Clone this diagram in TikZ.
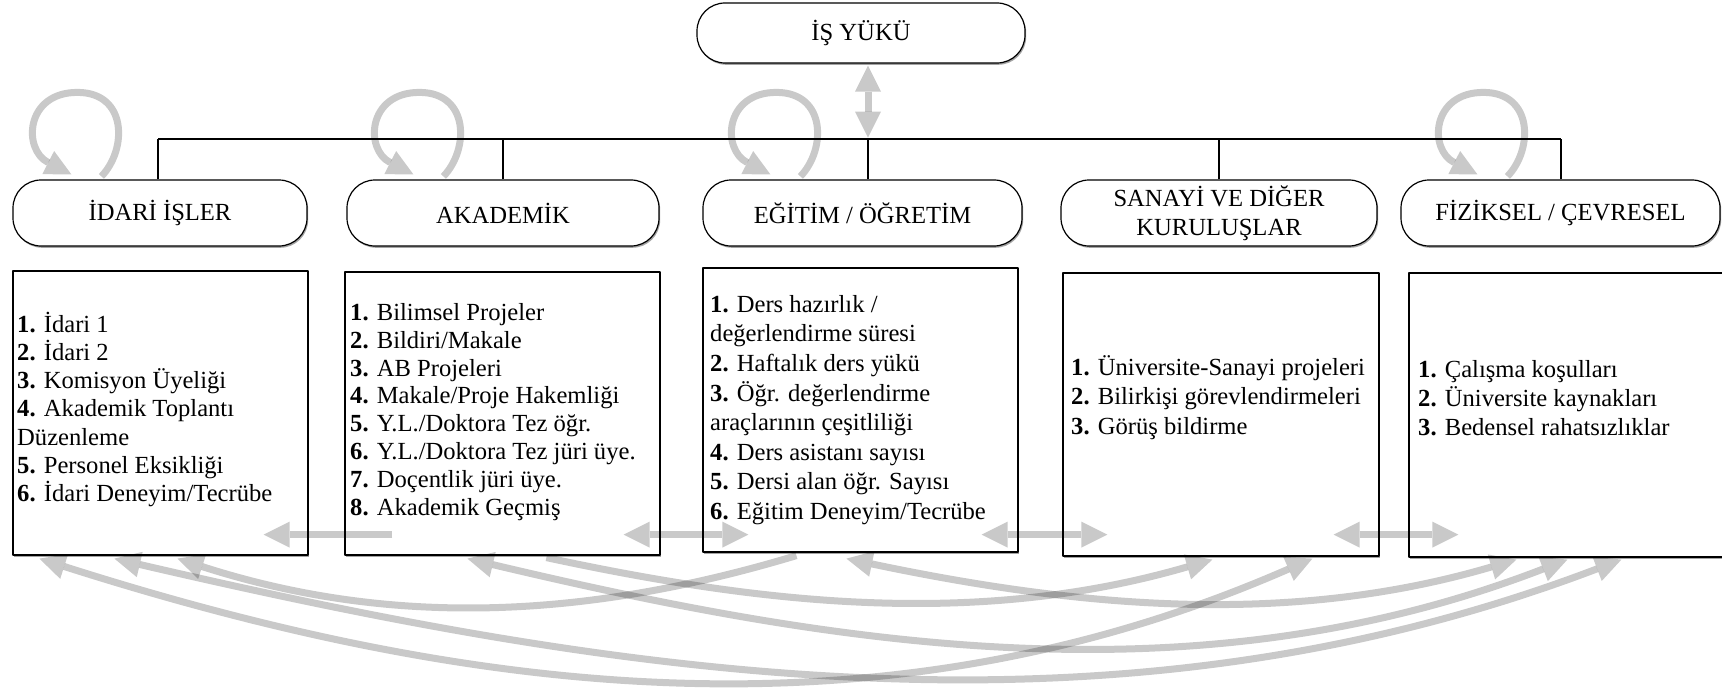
\documentclass[tikz,border=0pt]{standalone}
\usepackage{fontspec}
\setmainfont{Liberation Serif}
\usetikzlibrary{arrows.meta,calc,shadows}
\newcommand{\trfont}[1]{\fontsize{24.6pt}{#1}\selectfont}
\tikzset{
  gtip/.tip={Triangle[length=26pt,width=26pt,line width=0pt]},
  garc/.style={line width=7pt, draw=black, opacity=0.21, -{gtip}},
  garcd/.style={line width=7pt, draw=black, opacity=0.21, {gtip}-{gtip}},
  bus/.style={line width=1.2pt, draw=black},
  catbox/.style={draw, line width=1.2pt, rounded corners=28pt, minimum height=66pt,
    align=center, fill=white, inner sep=0pt, font=\trfont{29pt},
    drop shadow={shadow xshift=1.2pt, shadow yshift=-1.8pt, fill=black!60, opacity=0.6}},
  cbox/.style={draw, line width=1.2pt, fill=white, inner sep=0pt,
    drop shadow={shadow xshift=1.2pt, shadow yshift=-1.8pt, fill=black!60, opacity=0.6}},
  ctext/.style={anchor=north west, inner sep=0pt, align=left}
}
\newcommand{\selfloop}[2]{%
  \draw[garc] ($(#1.north west)+(#2,-3)$) .. controls +(26,-27) and +(50,0) .. ++(-24,-84)
     .. controls +(-52,0) and +(-49,-25) .. ++(-6,82);}
\begin{document}
\begin{tikzpicture}[x=1pt,y=-1pt,line join=round]
\useasboundingbox (0,0) rectangle (1722,690);
\fill[white] (0,0) rectangle (1722,690);

% top node
\node[catbox, minimum width=328pt, minimum height=60pt] (isyuku) at (861,33) {İŞ YÜKÜ};

% category nodes
\node[catbox, minimum width=294pt] (idari)  at (160,213)   {İDARİ İŞLER};
\node[catbox, minimum width=312pt] (akad)   at (503,213)   {AKADEMİK};
\node[catbox, minimum width=319pt] (egitim) at (862.5,213) {EĞİTİM / ÖĞRETİM};
\node[catbox, minimum width=316pt] (sanayi) at (1219,213)  {SANAYİ VE DİĞER\\KURULUŞLAR};
\node[catbox, minimum width=319pt] (fizik)  at (1560.5,213){FİZİKSEL / ÇEVRESEL};

% bus
\coordinate (busL) at (158,139);
\coordinate (busR) at (1561,139);
\coordinate (egtop) at ($(egitim.north)+(5.5,0)$);
\draw[bus] (busL) -- (busR);
\draw[bus] (busL |- idari.north) -- (busL);
\draw[bus] (akad.north) -- (akad.north |- busL);
\draw[bus] (egtop) -- (egtop |- busL);
\draw[bus] (sanayi.north) -- (sanayi.north |- busL);
\draw[bus] (busR |- fizik.north) -- (busR);

% content boxes
\node[cbox, minimum width=295pt, minimum height=284pt] (box1) at (160.5,413) {};
\node[cbox, minimum width=315pt, minimum height=283pt] (box2) at (502.5,413.5) {};
\node[cbox, minimum width=315pt, minimum height=284pt] (box3) at (860.5,410) {};
\node[cbox, minimum width=316pt, minimum height=283pt] (box4) at (1221,414.5) {};
\node[cbox, minimum width=321pt, minimum height=284pt] (box5) at (1569.5,415) {};

% texts
\node[ctext, font=\trfont{28.2pt}] (t1) at (17,310) {\rule{0pt}{22pt}\textbf{1.} İdari 1\\
\textbf{2.} İdari 2\\
\textbf{3.} Komisyon Üyeliği\\
\textbf{4.} Akademik Toplantı\\
Düzenleme\\
\textbf{5.} Personel Eksikliği\\
\textbf{6.} İdari Deneyim/Tecrübe};

\node[ctext, font=\trfont{27.9pt}] (t2) at (350,298) {\rule{0pt}{22pt}\textbf{1.} Bilimsel Projeler\\
\textbf{2.} Bildiri/Makale\\
\textbf{3.} AB Projeleri\\
\textbf{4.} Makale/Proje Hakemliği\\
\textbf{5.} Y.L./Doktora Tez öğr.\\
\textbf{6.} Y.L./Doktora Tez jüri üye.\\
\textbf{7.} Doçentlik jüri üye.\\
\textbf{8.} Akademik Geçmiş};

\node[ctext, font=\trfont{29.6pt}] (t3) at (710,290) {\rule{0pt}{22pt}\textbf{1.} Ders hazırlık /\\
değerlendirme süresi\\
\textbf{2.} Haftalık ders yükü\\
\textbf{3.} Öğr. değerlendirme\\
araçlarının çeşitliliği\\
\textbf{4.} Ders asistanı sayısı\\
\textbf{5.} Dersi alan öğr. Sayısı\\
\textbf{6.} Eğitim Deneyim/Tecrübe};

\node[ctext, font=\trfont{29.5pt}] (t4) at (1071,353) {\rule{0pt}{22pt}\textbf{1.} Üniversite-Sanayi projeleri\\
\textbf{2.} Bilirkişi görevlendirmeleri\\
\textbf{3.} Görüş bildirme};

\node[ctext, font=\trfont{29pt}] (t5) at (1418,355) {\rule{0pt}{22pt}\textbf{1.} Çalışma koşulları\\
\textbf{2.} Üniversite kaynakları\\
\textbf{3.} Bedensel rahatsızlıklar};

% vertical double arrow
\draw[garcd] ($(isyuku.south)+(7,2)$) -- ($(isyuku.south)+(7,74)$);

% self loops
\selfloop{idari}{89}
\selfloop{akad}{97}
\selfloop{egitim}{98}
\selfloop{fizik}{107}

% horizontal arrows
\draw[garc]  ($(box2.south west)+(48,-21)$) -- ($(box1.south east)+(-45,-21)$);
\draw[garcd] ($(box2.south east)+(-37,-21)$) -- ($(box3.south west)+(46,-18)$);
\draw[garcd] ($(box3.south east)+(-37,-18)$) -- ($(box4.south west)+(45,-22)$);
\draw[garcd] ($(box4.south east)+(-46,-22)$) -- ($(box5.south west)+(50,-23)$);

% bottom arcs
\draw[garc]  ($(box3.south west)+(94,3)$) .. controls (596,616) and (399,630) .. ($(box1.south west)+(165,3)$);
\draw[garc]  ($(box2.south west)+(202,2)$) .. controls (762,604) and (977,628) .. ($(box4.south west)+(150,3)$);
\draw[garcd] ($(box3.south west)+(144,6)$) .. controls (1077,607) and (1287,627) .. ($(box5.south west)+(108,2)$);
\draw[garcd] ($(box2.south west)+(123,3)$) .. controls (840,647) and (1196,703) .. ($(box5.south west)+(159,2)$);
\draw[garcd] ($(box1.south west)+(27,3)$) .. controls (474,697) and (884,746) .. ($(box4.south west)+(250,2)$);
\draw[garcd] ($(box1.south west)+(102,3)$) .. controls (624,677) and (1113,753) .. ($(box5.south west)+(213,2)$);
\end{tikzpicture}
\end{document}
